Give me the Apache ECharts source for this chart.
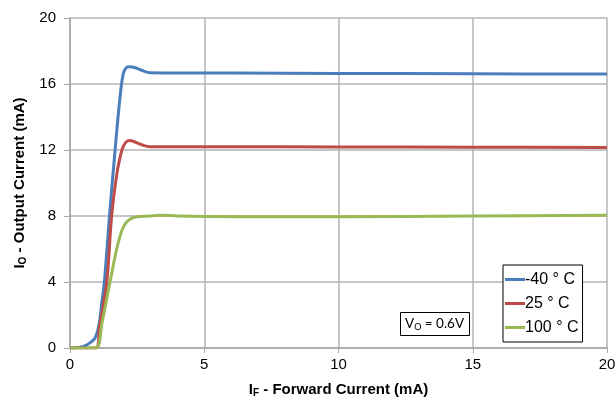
<!DOCTYPE html>
<html><head><meta charset="utf-8">
<script src="https://cdn.jsdelivr.net/npm/echarts@6/dist/echarts.min.js"></script>
<style>html,body{margin:0;padding:0;background:#fff}#c{width:616px;height:403px}</style>
</head><body><div id="c"></div>
<script>
const seriesNames = ['-40 ° C', '25 ° C', '100 ° C'];
const xTicks = [0, 5, 10, 15, 20];
const yTicks = [0, 4, 8, 12, 16, 20];
const blueX = [0, 0.3, 0.62, 0.93, 1.09, 1.18, 1.28, 1.47, 1.68, 1.85, 1.98, 2.1, 2.23, 2.4, 2.65, 2.98, 4, 6, 10, 15, 20];
const blueY = [0, 0.03, 0.18, 0.6, 1.5, 2.7, 4, 8, 12, 15, 16.6, 17.0, 17.05, 17.0, 16.85, 16.68, 16.67, 16.66, 16.64, 16.62, 16.6];
const redX = [0, 0.5, 0.97, 1.1, 1.37, 1.55, 1.75, 1.9, 1.98, 2.1, 2.23, 2.4, 2.7, 2.98, 4, 6, 10, 15, 20];
const redY = [0, 0, 0, 1.3, 4, 8, 10.6, 11.8, 12.2, 12.5, 12.57, 12.5, 12.3, 12.2, 12.2, 12.2, 12.18, 12.17, 12.15];
const greenX = [0, 0.5, 0.97, 1.2, 1.49, 1.74, 1.95, 2.15, 2.48, 3.0, 3.35, 4, 5, 8, 10, 15, 20];
const greenY = [0, 0, 0, 1.6, 4, 6, 7.2, 7.7, 7.95, 8.0, 8.05, 8.0, 7.97, 7.95, 7.95, 8.0, 8.05];
const colors = ['#4a7ebb', '#be4b48', '#98b954'];

const pair = (xs, ys) => xs.map((x, i) => [x, ys[i]]);
const chart = echarts.init(document.getElementById('c'), null, {renderer: 'canvas'});
const font = '"Liberation Sans", Arial, sans-serif';
const cal = 'Lato, "Open Sans", sans-serif';
chart.setOption({
  animation: false,
  textStyle: {fontFamily: font},
  grid: {left: 70, right: 9, top: 18, bottom: 55, containLabel: false, outerBoundsMode: 'none'},
  title: {
    text: '{a|V}{s|O}{a| = 0.6V}',
    left: 400, top: 311,
    borderColor: '#000', borderWidth: 1, backgroundColor: '#fff',
    padding: [5, 6, 4, 5],
    textStyle: {fontWeight: 'normal', rich: {
      a: {fontFamily: cal, fontWeight: 'normal', fontSize: 13.5, color: '#000'},
      s: {fontFamily: cal, fontWeight: 'normal', fontSize: 9, color: '#000', verticalAlign: 'bottom', padding: [7, 0, 0, 0]}
    }}
  },
  legend: {
    orient: 'vertical', left: 503, top: 265,
    data: seriesNames,
    backgroundColor: '#fff', borderColor: '#000', borderWidth: 1,
    padding: [6, 4, 6, 2], itemGap: 7,
    icon: 'rect', itemWidth: 20, itemHeight: 3,
    textStyle: {fontFamily: font, fontSize: 16, lineHeight: 17, color: '#000', padding: [0, 0, 0, -5]}
  },
  xAxis: {
    type: 'value', min: 0, max: 20, interval: 5,
    name: '{a|I}{s|F}{a| - Forward Current (mA)}',
    nameLocation: 'middle', nameGap: 33,
    nameTextStyle: {rich: {
      a: {fontFamily: font, fontWeight: 'bold', fontSize: 15, color: '#000'},
      s: {fontFamily: font, fontWeight: 'bold', fontSize: 10, color: '#000', verticalAlign: 'bottom', padding: [7, 0, 0, 0]}
    }},
    axisLine: {show: true, lineStyle: {color: '#a6a6a6', width: 1.5}},
    axisTick: {show: true, length: 5, lineStyle: {color: '#a6a6a6'}},
    axisLabel: {fontSize: 15, color: '#000', margin: 9, formatter: v => xTicks.includes(v) ? String(v) : ''},
    splitLine: {show: true, lineStyle: {color: '#b3b3b3', width: 1.5}}
  },
  yAxis: {
    type: 'value', min: 0, max: 20, interval: 4,
    name: '{a|I}{s|O}{a| - Output Current (mA)}',
    nameLocation: 'middle', nameGap: 37,
    nameTextStyle: {rich: {
      a: {fontFamily: font, fontWeight: 'bold', fontSize: 15, color: '#000'},
      s: {fontFamily: font, fontWeight: 'bold', fontSize: 10, color: '#000', verticalAlign: 'bottom', padding: [7, 0, 0, 0]}
    }},
    axisLine: {show: true, lineStyle: {color: '#a6a6a6', width: 1.5}},
    axisTick: {show: true, length: 6, lineStyle: {color: '#a6a6a6'}},
    axisLabel: {fontSize: 15, color: '#000', margin: 14, formatter: v => yTicks.includes(v) ? String(v) : ''},
    splitLine: {show: true, lineStyle: {color: '#b3b3b3', width: 1.5}}
  },
  series: [
    {name: seriesNames[0], data: pair(blueX, blueY)},
    {name: seriesNames[1], data: pair(redX, redY)},
    {name: seriesNames[2], data: pair(greenX, greenY)}
  ].map((s, i) => Object.assign(s, {
    type: 'line', smooth: 0.35, showSymbol: false, symbol: 'none',
    color: colors[i], lineStyle: {width: 3, color: colors[i]}
  }))
});
</script></body></html>
